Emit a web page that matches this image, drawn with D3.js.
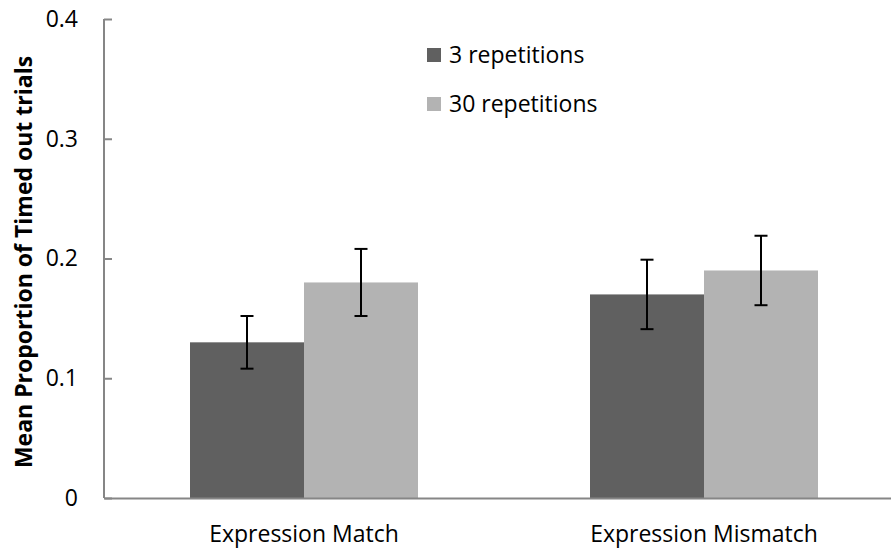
<!DOCTYPE html>
<html>
<head>
<meta charset="utf-8">
<script src="https://cdn.jsdelivr.net/npm/d3@7"></script>
<style>
  body { margin: 0; background: #fff; }
  svg text { font-family: "Open Sans", "Noto Sans", sans-serif; }
</style>
</head>
<body>
<div id="chart"></div>
<script>
const categories = ['Expression Match', 'Expression Mismatch'];
const seriesNames = ['3 repetitions', '30 repetitions'];
const threeReps = [0.13, 0.17];
const thirtyReps = [0.18, 0.19];
const threeRepsErr = [0.022, 0.029];
const thirtyRepsErr = [0.028, 0.029];
const yTicks = [0, 0.1, 0.2, 0.3, 0.4];
const colors = ['#606060', '#b3b3b3'];

const width = 891, height = 548;
const margin = { top: 19, right: -13, bottom: 50, left: 104 };

const svg = d3.select('#chart')
    .append('svg')
    .attr('width', width)
    .attr('height', height);

const x0 = d3.scaleBand()
    .domain(categories)
    .range([margin.left, width - margin.right])
    .paddingInner(0.43)
    .paddingOuter(0.215);

const x1 = d3.scaleBand()
    .domain(seriesNames)
    .range([0, x0.bandwidth()]);

const y = d3.scaleLinear()
    .domain([0, 0.4])
    .range([height - margin.bottom, margin.top]);

const rows = [];
categories.forEach((c, i) => {
    rows.push({ cat: c, series: seriesNames[0], value: threeReps[i], err: threeRepsErr[i], color: colors[0] });
    rows.push({ cat: c, series: seriesNames[1], value: thirtyReps[i], err: thirtyRepsErr[i], color: colors[1] });
});

// bars
svg.append('g')
    .selectAll('rect')
    .data(rows)
    .join('rect')
    .attr('x', d => x0(d.cat) + x1(d.series))
    .attr('y', d => y(d.value))
    .attr('width', x1.bandwidth())
    .attr('height', d => y(0) - y(d.value))
    .style('fill', d => d.color);

// error bars
const eb = svg.append('g')
    .selectAll('g')
    .data(rows)
    .join('g')
    .attr('transform', d => 'translate(' + (x0(d.cat) + x1(d.series) + x1.bandwidth() / 2) + ',0)')
    .style('stroke', '#000')
    .style('stroke-width', 2);
eb.append('line')
    .attr('y1', d => y(d.value - d.err))
    .attr('y2', d => y(d.value + d.err));
eb.append('line')
    .attr('x1', -6.5).attr('x2', 6.5)
    .attr('y1', d => y(d.value + d.err))
    .attr('y2', d => y(d.value + d.err));
eb.append('line')
    .attr('x1', -6.5).attr('x2', 6.5)
    .attr('y1', d => y(d.value - d.err))
    .attr('y2', d => y(d.value - d.err));

// y axis
const yAxis = svg.append('g')
    .attr('transform', 'translate(' + margin.left + ',0)')
    .call(d3.axisLeft(y).tickValues(yTicks).tickSize(-8).tickPadding(26)
        .tickFormat(d => d === 0 ? '0' : d3.format('.1f')(d)));
yAxis.select('.domain').attr('d', 'M0,' + y(0.4) + 'V' + y(0)).style('stroke', '#868686').style('stroke-width', 2);
yAxis.selectAll('.tick line').style('stroke', '#868686').style('stroke-width', 2);
yAxis.selectAll('.tick text').style('font-size', '23px').style('fill', '#000');

// x axis
const xAxis = svg.append('g')
    .attr('transform', 'translate(0,' + y(0) + ')')
    .call(d3.axisBottom(x0).tickSize(0).tickPadding(28));
xAxis.select('.domain').style('stroke', '#868686').style('stroke-width', 2);
xAxis.selectAll('.tick text').style('font-size', '23px').style('fill', '#000');

// y label
svg.append('text')
    .attr('transform', 'rotate(-90)')
    .attr('x', -262)
    .attr('y', 32)
    .style('text-anchor', 'middle')
    .style('font-size', '23px')
    .style('font-weight', 'bold')
    .text('Mean Proportion of Timed out trials');

// legend
const legend = svg.append('g')
    .selectAll('g')
    .data(seriesNames)
    .join('g')
    .attr('transform', (d, i) => 'translate(427,' + (48 + i * 49) + ')');
legend.append('rect')
    .attr('width', 14).attr('height', 14)
    .style('fill', (d, i) => colors[i]);
legend.append('text')
    .attr('x', 22).attr('y', 14.5)
    .style('font-size', '23px')
    .text(d => d);
</script>
</body>
</html>
